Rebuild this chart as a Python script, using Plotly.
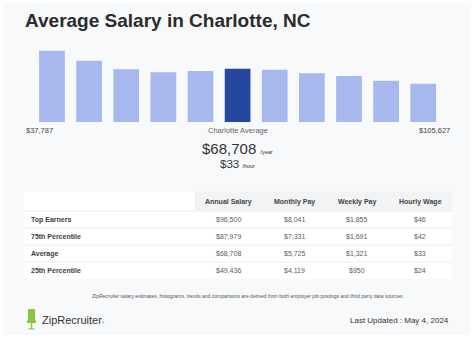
import plotly.graph_objects as go

W, H = 474, 338

# ---------------- data ----------------
bin_labels = ["$37,787", "$43,954", "$50,122", "$56,289", "$62,456", "$68,624",
              "$74,791", "$80,958", "$87,126", "$93,293", "$99,460"]
bin_share = [71.3, 61.3, 52.7, 49.7, 51.0, 53.3, 52.3, 48.7, 46.0, 41.3, 38.3]
highlight_bin = 5

range_low = "$37,787"
range_high = "$105,627"
avg_year = "$68,708"
avg_hour = "$33"

table_header = ["Annual Salary", "Monthly Pay", "Weekly Pay", "Hourly Wage"]
row_labels = ["Top Earners", "75th Percentile", "Average", "25th Percentile"]
annual = ["$96,500", "$87,979", "$68,708", "$49,436"]
monthly = ["$8,041", "$7,331", "$5,725", "$4,119"]
weekly = ["$1,855", "$1,691", "$1,321", "$950"]
hourly = ["$46", "$42", "$33", "$24"]

title = "Average Salary in Charlotte, NC"
footnote = ("ZipRecruiter salary estimates, histograms, trends and comparisons are derived "
            "from both employer job postings and third party data sources.")
updated = "Last Updated : May 4, 2024"

# ---------------- helpers ----------------
def X(px):
    return px / W

def Y(py):
    return 1 - py / H

FONT = "Liberation Sans, Arial, sans-serif"
LIGHT = "#a7b8ef"
DARK = "#2647a0"

colors = [DARK if i == highlight_bin else LIGHT for i in range(len(bin_share))]

fig = go.Figure()

fig.add_trace(go.Bar(
    x=bin_labels, y=bin_share, marker=dict(color=colors, line=dict(width=0)),
    hoverinfo="skip", showlegend=False,
))

def ann(text, x, y, size, color="#333333", xanchor="left", bold=False):
    return dict(text=("<b>%s</b>" % text) if bold else text, x=X(x), y=Y(y),
                xref="paper", yref="paper", xanchor=xanchor, yanchor="middle",
                showarrow=False, font=dict(family=FONT, size=size, color=color))

shapes = [
    # light panel
    dict(type="rect", xref="paper", yref="paper", x0=X(3), x1=X(471), y0=Y(335), y1=Y(3),
         fillcolor="#f8f9fb", line=dict(width=0), layer="below"),
]

# ---------------- table (drawn from the lists) ----------------
tbl_left, tbl_right = 24, 452
tbl_top, hdr_bot, row_h = 191.7, 211.0, 17.0
col_edges = [195, 262.5, 326.5, 388, 452]
n_rows = len(row_labels)
tbl_bot = hdr_bot + n_rows * row_h

shapes.append(dict(type="rect", xref="paper", yref="paper", x0=X(tbl_left), x1=X(tbl_right),
                   y0=Y(tbl_bot), y1=Y(tbl_top), fillcolor="#ffffff", line=dict(width=0),
                   layer="below"))
shapes.append(dict(type="rect", xref="paper", yref="paper", x0=X(col_edges[0]), x1=X(col_edges[-1]),
                   y0=Y(hdr_bot), y1=Y(tbl_top), fillcolor="#f2f3f5", line=dict(width=0),
                   layer="below"))
for r in range(n_rows):
    py = hdr_bot + r * row_h
    shapes.append(dict(type="line", xref="paper", yref="paper", x0=X(tbl_left), x1=X(tbl_right),
                       y0=Y(py), y1=Y(py), line=dict(color="#eceef2", width=1), layer="below"))

annotations = []
hdr_y = (tbl_top + hdr_bot) / 2 + 0.3
for c, h in enumerate(table_header):
    cx = (col_edges[c] + col_edges[c + 1]) / 2
    annotations.append(ann(h, cx, hdr_y, 7, "#444444", xanchor="center", bold=True))
columns = [annual, monthly, weekly, hourly]
for r in range(n_rows):
    cy = hdr_bot + (r + 0.5) * row_h
    annotations.append(ann(row_labels[r], 28.5, cy, 7, "#3d3d3d", bold=True))
    for c, col in enumerate(columns):
        cx = (col_edges[c] + col_edges[c + 1]) / 2
        annotations.append(ann(col[r], cx, cy, 7, "#5c5c5c", xanchor="center"))

# logo icon
shapes += [
    dict(type="rect", xref="paper", yref="paper", x0=X(28), x1=X(35), y0=Y(321), y1=Y(309),
         fillcolor="#8cc63f", line=dict(width=0)),
    dict(type="rect", xref="paper", yref="paper", x0=X(27), x1=X(36), y0=Y(323), y1=Y(320.5),
         fillcolor="#8cc63f", line=dict(width=0)),
    dict(type="rect", xref="paper", yref="paper", x0=X(30.8), x1=X(32.2), y0=Y(329), y1=Y(323),
         fillcolor="#8cc63f", line=dict(width=0)),
    dict(type="rect", xref="paper", yref="paper", x0=X(28.5), x1=X(34.5), y0=Y(329.5), y1=Y(328.3),
         fillcolor="#8cc63f", line=dict(width=0)),
]

annotations += [
    ann(title, 23, 20.5, 19, "#2b2b2b", bold=True),
    ann(range_low, 24, 130, 7.5, "#444444"),
    ann("Charlotte Average", 237.5, 130, 7.5, "#666666", xanchor="center"),
    ann(range_high, 452, 130, 7.5, "#444444", xanchor="right"),
    ann(avg_year + " <span style='font-size:5.5px'>/year</span>", 237, 148, 15, "#333333", xanchor="center"),
    ann(avg_hour + " <span style='font-size:5.5px'>/hour</span>", 237.5, 163.5, 11.5, "#333333", xanchor="center"),
    ann(footnote, 248, 296, 5, "#555555", xanchor="center"),
    ann("ZipRecruiter<span style='font-size:3px'>®</span>", 40, 320, 11, "#333333"),
    ann(updated, 451, 320, 8, "#333333", xanchor="right"),
]

fig.update_layout(
    width=W, height=H, margin=dict(l=0, r=0, t=0, b=0),
    paper_bgcolor="#ffffff", plot_bgcolor="rgba(0,0,0,0)",
    bargap=0.307,
    xaxis=dict(domain=[X(33.4), X(441.8)], visible=False, fixedrange=True),
    yaxis=dict(domain=[Y(122), Y(45)], range=[0, 77], visible=False, fixedrange=True),
    shapes=shapes, annotations=annotations,
)

fig.write_html("out.html")
